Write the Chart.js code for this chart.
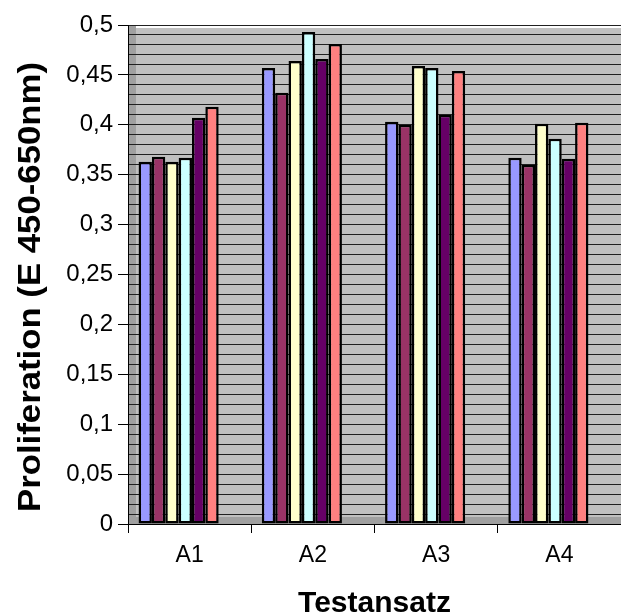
<!DOCTYPE html>
<html lang="de">
<head>
<meta charset="utf-8">
<title>Proliferation</title>
<script src="https://cdn.jsdelivr.net/npm/chart.js@4/dist/chart.umd.min.js"></script>
<style>
    html, body { margin: 0; padding: 0; background: #fff; }
    #wrap { width: 621px; height: 613px; }
</style>
</head>
<body>
<div id="wrap"><canvas id="prolifChart" width="621" height="613"></canvas></div>
<script>
// Testansätze auf der x-Achse
const categories = ['A1', 'A2', 'A3', 'A4'];

// Messwerte je Reihe (E 450-650nm)
const reihe1 = [0.363, 0.457, 0.403, 0.367];
const reihe2 = [0.368, 0.432, 0.400, 0.360];
const reihe3 = [0.363, 0.464, 0.459, 0.401];
const reihe4 = [0.367, 0.493, 0.457, 0.386];
const reihe5 = [0.407, 0.466, 0.410, 0.366];
const reihe6 = [0.418, 0.481, 0.454, 0.402];

const seriesNames = ['Reihe1', 'Reihe2', 'Reihe3', 'Reihe4', 'Reihe5', 'Reihe6'];
const seriesColors = ['#9999FF', '#993366', '#FFFFCC', '#CCFFFF', '#660066', '#FF8080'];

// y-Achse: 0 bis 0,5, Beschriftung alle 0,05, Gitter alle 0,01
const yMin = 0;
const yMax = 0.5;
const yStep = 0.01;
const yLabelStep = 0.05;

const yTitle = 'Proliferation (E 450-650nm)';
const xTitle = 'Testansatz';

const FONT = 'Arial, "Liberation Sans", sans-serif';

function isMajor(v) {
    const n = v / yLabelStep;
    return Math.abs(n - Math.round(n)) < 1e-6;
}

function fmt(v) {
    return (Math.round(v * 100) / 100).toString().replace('.', ',');
}

// grauer Hintergrund mit Seitenwand und Boden (3D-Optik)
const wallPlugin = {
    id: 'walls',
    beforeDraw(chart) {
        const { ctx, chartArea: a } = chart;
        ctx.save();
        ctx.fillStyle = '#C0C0C0';
        ctx.fillRect(a.left, a.top + 3, a.right - a.left, a.bottom - a.top - 3);
        ctx.fillStyle = '#A0A0A0';
        ctx.fillRect(a.left, a.top, 8, a.bottom - a.top);
        ctx.fillRect(a.left, a.bottom - 7, a.right - a.left, 7);
        ctx.restore();
    }
};

// Säulen etwas nach links versetzt (Tiefenversatz)
const depthPlugin = {
    id: 'depth',
    beforeDatasetsDraw(chart) {
        chart.ctx.save();
        chart.ctx.translate(-11, 0);
    },
    afterDatasetsDraw(chart) {
        chart.ctx.restore();
    }
};

// gedrehter, gestreckter Achsentitel links
const yTitlePlugin = {
    id: 'yTitle',
    afterDraw(chart) {
        const ctx = chart.ctx;
        ctx.save();
        ctx.font = 'bold 31px ' + FONT;
        const w = ctx.measureText(yTitle).width;
        ctx.translate(40, 287);
        ctx.rotate(-Math.PI / 2);
        ctx.scale(450 / w, 1);
        ctx.fillStyle = '#000';
        ctx.textAlign = 'center';
        ctx.textBaseline = 'alphabetic';
        ctx.fillText(yTitle, 0, 0);
        ctx.restore();
    }
};

const allSeries = [reihe1, reihe2, reihe3, reihe4, reihe5, reihe6];

const ctx = document.getElementById('prolifChart').getContext('2d');
new Chart(ctx, {
    type: 'bar',
    data: {
        labels: categories,
        datasets: allSeries.map((vals, i) => ({
            label: seriesNames[i],
            data: vals,
            backgroundColor: seriesColors[i],
            borderColor: '#000',
            borderWidth: 2.5,
            borderSkipped: false,
            categoryPercentage: 0.65,
            barPercentage: 1.0
        }))
    },
    options: {
        responsive: false,
        animation: false,
        devicePixelRatio: 1,
        layout: { padding: { top: 25, right: -6, left: 0, bottom: 0 } },
        plugins: {
            legend: { display: false },
            tooltip: { enabled: false }
        },
        scales: {
            x: {
                afterFit(scale) { scale.height = 89; },
                grid: {
                    drawOnChartArea: false,
                    color: '#000',
                    tickLength: 9,
                    offset: true
                },
                border: { color: '#000', width: 1 },
                ticks: {
                    color: '#000',
                    padding: 9,
                    font: { family: FONT, size: 23 }
                },
                title: {
                    display: true,
                    text: xTitle,
                    color: '#000',
                    font: { family: FONT, size: 30, weight: 'bold', lineHeight: 0.6 },
                    padding: 0
                }
            },
            y: {
                min: yMin,
                max: yMax,
                afterFit(scale) { scale.width = 128; },
                grid: {
                    color: '#202020',
                    lineWidth: 1,
                    tickLength: 10,
                    tickColor: c => isMajor(c.tick.value) ? '#000' : 'rgba(0,0,0,0)'
                },
                border: { color: '#000', width: 1 },
                ticks: {
                    stepSize: yStep,
                    autoSkip: false,
                    color: '#000',
                    padding: 5,
                    font: { family: FONT, size: 24 },
                    callback: v => isMajor(v) ? fmt(v) : ''
                }
            }
        }
    },
    plugins: [wallPlugin, depthPlugin, yTitlePlugin]
});
</script>
</body>
</html>
